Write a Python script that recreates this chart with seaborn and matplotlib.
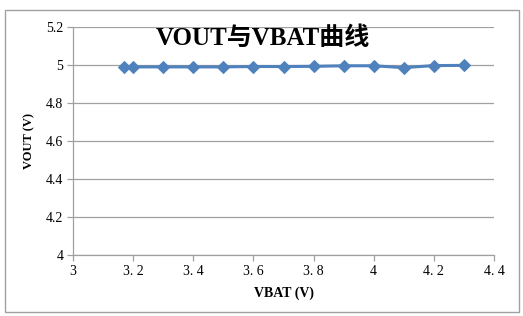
import matplotlib
matplotlib.use("Agg")
import matplotlib.pyplot as plt
import seaborn as sns
import pandas as pd
from matplotlib.patches import Rectangle

vbat = [3.17, 3.2, 3.3, 3.4, 3.5, 3.6, 3.7, 3.8, 3.9, 4.0, 4.1, 4.2, 4.3]
vout = [4.99, 4.99, 4.99, 4.99, 4.99, 4.992, 4.992, 4.993, 4.996, 4.996, 4.986, 4.997, 4.998]
xticks = [3.0, 3.2, 3.4, 3.6, 3.8, 4.0, 4.2, 4.4]
xticklabels = ["3", "3. 2", "3. 4", "3. 6", "3. 8", "4", "4. 2", "4. 4"]
yticks = [4.0, 4.2, 4.4, 4.6, 4.8, 5.0, 5.2]
yticklabels = ["4", "4.2", "4.4", "4.6", "4.8", "5", "5.2"]

sns.set_theme(style="white")
plt.rcParams['font.family'] = ['Liberation Serif', 'Noto Sans CJK SC']

df = pd.DataFrame({"VBAT": vbat, "VOUT": vout})
W, H = 523, 316
fig = plt.figure(figsize=(W/100, H/100), dpi=100)
ax = fig.add_axes([73/W, 1-255/H, (494-73)/W, (255-27)/H])

sns.lineplot(data=df, x="VBAT", y="VOUT", ax=ax, color="#4F81BD", linewidth=2.2,
             marker="D", markersize=6, markeredgecolor="#4F81BD")

ax.set_xlim(3.0, 4.4)
ax.set_ylim(4.0, 5.2)
ax.set_xticks(xticks)
ax.set_xticklabels(xticklabels, fontsize=10)
ax.set_yticks(yticks)
ax.set_yticklabels(yticklabels, fontsize=10)
ax.grid(axis="y", color="#A0A0A0", linewidth=0.9)
ax.grid(axis="x", visible=False)
ax.set_axisbelow(True)
for s in ["top", "right"]:
    ax.spines[s].set_visible(False)
for s in ["left", "bottom"]:
    ax.spines[s].set_color("#A0A0A0")
    ax.spines[s].set_linewidth(0.9)
ax.tick_params(axis="both", direction="out", length=4, width=0.9, color="#A0A0A0",
               pad=3, left=True, bottom=True, labelcolor="black")
ax.set_xlabel("VBAT (V)", fontsize=10, fontweight="bold", labelpad=6, color="black")
ax.set_ylabel("VOUT (V)", fontsize=9, fontweight="bold", labelpad=8, color="black")

fig.text(263/W, 1-38/H, "VOUT与VBAT曲线", ha="center", va="center", color="black",
         fontsize=18, fontweight="bold", family=['Liberation Serif', 'Noto Sans CJK SC'])

fig.patches.append(Rectangle((5/W, 1-312/H), (519-5)/W, (312-10)/H, transform=fig.transFigure,
                             fill=False, edgecolor="#A0A0A0", linewidth=1))

fig.savefig("out.png", dpi=100)
